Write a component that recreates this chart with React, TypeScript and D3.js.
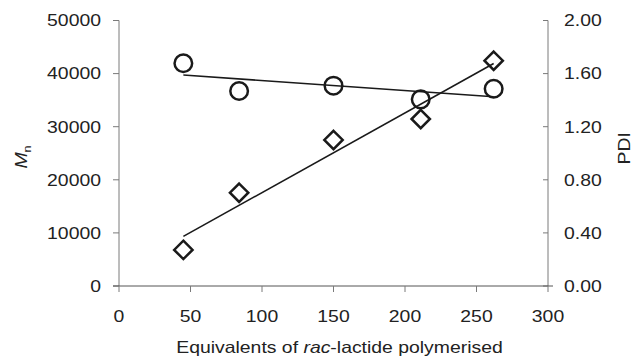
import { useRef, useEffect } from "react";
import * as d3 from "d3";

// equivalents of rac-lactide polymerised
const equivalents = [45, 84, 150, 211, 262];
// Mn values (left axis, diamonds)
const mnValues = [6800, 17570, 27500, 31450, 42430];
// PDI values (right axis, circles)
const pdiValues = [1.678, 1.469, 1.509, 1.406, 1.486];

const xTicks = [0, 50, 100, 150, 200, 250, 300];
const mnTicks = [0, 10000, 20000, 30000, 40000, 50000];
const pdiTicks = [0, 0.4, 0.8, 1.2, 1.6, 2.0];

const width = 639;
const height = 357;

// least squares fit, like the spreadsheet trendline
function linearFit(xs: number[], ys: number[]) {
  const mx = d3.mean(xs) as number;
  const my = d3.mean(ys) as number;
  let num = 0;
  let den = 0;
  xs.forEach((x, i) => {
    num += (x - mx) * (ys[i] - my);
    den += (x - mx) * (x - mx);
  });
  const slope = num / den;
  return (x: number) => my + slope * (x - mx);
}

export default function App() {
  const svgRef = useRef<SVGSVGElement | null>(null);

  useEffect(() => {
    if (!svgRef.current) return;
    const svg = d3.select(svgRef.current);
    svg.selectAll("*").remove();

    const font = "'Liberation Sans', Arial, sans-serif";
    const axisColor = "#7a7a7a";
    const ink = "#1a1a1a";
    const fs = 16.3;
    const stretch = 1.19; // the original's lettering is a bit wide

    const x = d3.scaleLinear().domain([0, 300]).range([119, 548]);
    const yMn = d3.scaleLinear().domain([0, 50000]).range([286, 20.5]);
    const yPdi = d3.scaleLinear().domain([0, 2]).range([286, 20.5]);

    const g = svg.append("g").style("font-family", font);

    // left axis
    g.append("line")
      .attr("x1", x(0)).attr("x2", x(0))
      .attr("y1", yMn(0)).attr("y2", yMn(50000))
      .attr("stroke", axisColor);
    g.selectAll(".lt")
      .data(mnTicks)
      .join("line")
      .attr("x1", x(0) - 6).attr("x2", x(0))
      .attr("y1", (d) => yMn(d)).attr("y2", (d) => yMn(d))
      .attr("stroke", axisColor);
    g.selectAll(".ll")
      .data(mnTicks)
      .join("text")
      .attr("transform", (d) => `translate(101,${yMn(d)}) scale(${stretch},1)`)
      .attr("dy", "0.36em")
      .attr("text-anchor", "end")
      .attr("font-size", fs)
      .attr("fill", "#222")
      .text((d) => String(d));

    // right axis
    g.append("line")
      .attr("x1", x(300)).attr("x2", x(300))
      .attr("y1", yPdi(0)).attr("y2", yPdi(2))
      .attr("stroke", axisColor);
    g.selectAll(".rt")
      .data(pdiTicks)
      .join("line")
      .attr("x1", x(300) - 5).attr("x2", x(300))
      .attr("y1", (d) => yPdi(d)).attr("y2", (d) => yPdi(d))
      .attr("stroke", axisColor);
    g.selectAll(".rl")
      .data(pdiTicks)
      .join("text")
      .attr("transform", (d) => `translate(564,${yPdi(d)}) scale(${stretch},1)`)
      .attr("dy", "0.36em")
      .attr("font-size", fs)
      .attr("fill", "#222")
      .text((d) => d.toFixed(2));

    // bottom axis
    g.append("line")
      .attr("x1", x(0) - 6).attr("x2", x(300) + 5)
      .attr("y1", yMn(0)).attr("y2", yMn(0))
      .attr("stroke", "#555");
    g.selectAll(".bt")
      .data(xTicks)
      .join("line")
      .attr("x1", (d) => x(d)).attr("x2", (d) => x(d))
      .attr("y1", yMn(0)).attr("y2", yMn(0) + 6)
      .attr("stroke", axisColor);
    g.selectAll(".bl")
      .data(xTicks)
      .join("text")
      .attr("transform", (d) => `translate(${x(d)},321.5) scale(${stretch},1)`)
      .attr("text-anchor", "middle")
      .attr("font-size", fs)
      .attr("fill", "#222")
      .text((d) => String(d));

    // axis titles
    const xt = g.append("text")
      .attr("transform", `translate(339.5,353.3) scale(${stretch},1)`)
      .attr("text-anchor", "middle")
      .attr("font-size", fs)
      .attr("fill", "#222");
    xt.append("tspan").text("Equivalents of ");
    xt.append("tspan").attr("font-style", "italic").text("rac");
    xt.append("tspan").text("-lactide polymerised");

    const yt = g.append("text")
      .attr("transform", `translate(26.5,157) rotate(-90) scale(${stretch},1)`)
      .attr("text-anchor", "middle")
      .attr("font-size", fs)
      .attr("fill", "#222");
    yt.append("tspan").attr("font-style", "italic").text("M");
    yt.append("tspan").attr("font-size", 10.5).attr("dy", 4.5).text("n");

    g.append("text")
      .attr("transform", `translate(630,148.3) rotate(-90) scale(${stretch},1)`)
      .attr("text-anchor", "middle")
      .attr("font-size", fs)
      .attr("fill", "#222")
      .text("PDI");

    // trendlines
    const xs0 = d3.min(equivalents) as number;
    const xs1 = d3.max(equivalents) as number;
    const fitMn = linearFit(equivalents, mnValues);
    const fitPdi = linearFit(equivalents, pdiValues);
    g.append("line")
      .attr("x1", x(xs0)).attr("y1", yMn(fitMn(xs0)))
      .attr("x2", x(xs1)).attr("y2", yMn(fitMn(xs1)))
      .attr("stroke", ink).attr("stroke-width", 1.6);
    g.append("line")
      .attr("x1", x(xs0)).attr("y1", yPdi(fitPdi(xs0)))
      .attr("x2", x(xs1)).attr("y2", yPdi(fitPdi(xs1)))
      .attr("stroke", ink).attr("stroke-width", 1.6);

    // PDI circles
    g.selectAll(".pdi")
      .data(equivalents)
      .join("circle")
      .attr("cx", (d) => x(d))
      .attr("cy", (d, i) => yPdi(pdiValues[i]))
      .attr("r", 8.8)
      .attr("fill", "none")
      .attr("stroke", ink)
      .attr("stroke-width", 2.5);

    // Mn diamonds
    const diamond = d3.symbol().type(d3.symbolDiamond2).size(215);
    g.selectAll(".mn")
      .data(equivalents)
      .join("path")
      .attr("transform", (d, i) => `translate(${x(d)},${yMn(mnValues[i])})`)
      .attr("d", diamond() as string)
      .attr("fill", "none")
      .attr("stroke", ink)
      .attr("stroke-width", 2.5);
  }, []);

  return (
    <svg
      ref={svgRef}
      width={width}
      height={height}
      style={{ position: "absolute", left: 0, top: 0, background: "white" }}
    />
  );
}
